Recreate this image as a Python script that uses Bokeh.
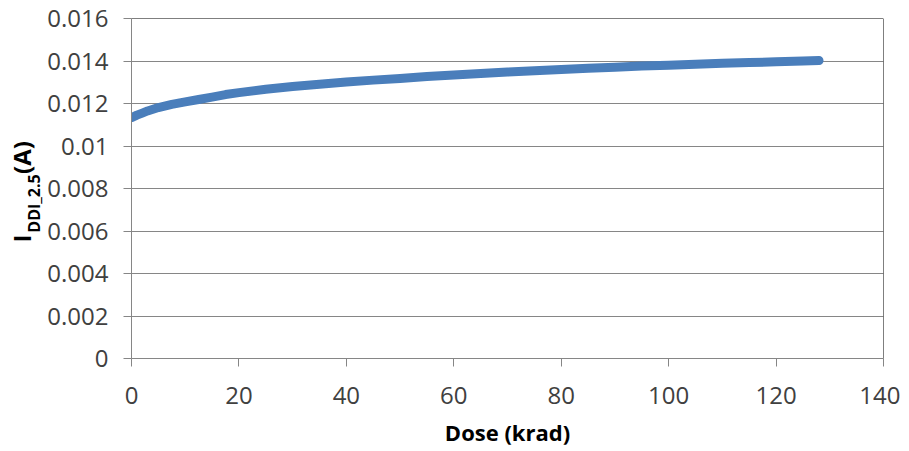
import math
from bokeh.plotting import figure
from bokeh.layouts import row
from bokeh.models import Span, FixedTicker, Range1d
from bokeh.core.properties import value
from bokeh.embed import file_html
from bokeh.resources import INLINE

# Data
dose_krad = [0, 1, 2, 3, 5, 7.5, 10, 12.5, 15, 17.5, 20, 25, 30, 35, 40, 45, 50,
             55, 60, 65, 70, 75, 80, 85, 90, 95, 100, 105, 110, 115, 120, 125, 128]
iddi_a = [0.01133, 0.01145, 0.01155, 0.01165, 0.01181, 0.01196, 0.01208, 0.01219,
          0.01230, 0.01242, 0.01251, 0.01267, 0.01280, 0.01291, 0.01301, 0.01310,
          0.01318, 0.01327, 0.01334, 0.01341, 0.01348, 0.01354, 0.01360, 0.01366,
          0.01371, 0.01376, 0.01380, 0.01385, 0.01389, 0.01393, 0.01396, 0.01400,
          0.01402]

x_ticks = [0, 20, 40, 60, 80, 100, 120, 140]
y_ticks = [0, 0.002, 0.004, 0.006, 0.008, 0.010, 0.012, 0.014, 0.016]
y_tick_labels = ["0", "0.002", "0.004", "0.006", "0.008", "0.01", "0.012", "0.014", "0.016"]

H = 450
SIDE_W = 44
TOP = 18
BOTTOM = 358  # frame bottom in page pixels

# ---- narrow side panel carrying the y-axis title (with subscript) ----
side = figure(width=SIDE_W, height=H, output_backend="svg", toolbar_location=None,
              x_range=Range1d(0, SIDE_W), y_range=Range1d(0, BOTTOM - TOP),
              x_axis_location=None, y_axis_location=None,
              min_border=0, min_border_left=0, min_border_right=0,
              min_border_top=TOP, min_border_bottom=H - BOTTOM)
side.grid.visible = False
side.outline_line_color = None
side.background_fill_color = "white"
side.border_fill_color = "white"

ang = math.pi / 2
tstyle = dict(angle=ang, text_font=value("Open Sans"), text_font_style="bold",
              text_color="black", text_align="center", text_baseline="middle")
# positions are page pixels: x from left, y converted from top to frame units
side.text(x=[21], y=[BOTTOM - 238], text=["I"], text_font_size="24px", **tstyle)
side.text(x=[33], y=[BOTTOM - 203], text=["DDI_2.5"], text_font_size="16px", **tstyle)
side.text(x=[21], y=[BOTTOM - 157], text=["(A)"], text_font_size="24px", **tstyle)

# ---- main chart ----
p = figure(width=900 - SIDE_W, height=H, output_backend="svg", toolbar_location=None,
           x_range=Range1d(0, 140), y_range=Range1d(0, 0.016),
           min_border_left=130 - SIDE_W, min_border_right=17, min_border_top=TOP,
           min_border_bottom=H - BOTTOM)
p.background_fill_color = "white"
p.border_fill_color = "white"
p.outline_line_color = None

grid_col = "#868686"
for ax in (p.xaxis, p.yaxis):
    ax.axis_line_color = grid_col
    ax.major_tick_line_color = grid_col
    ax.major_tick_out = 8
    ax.major_tick_in = 0
    ax.minor_tick_line_color = None
    ax.major_label_text_font = "Open Sans"
    ax.major_label_text_font_size = "24px"
    ax.major_label_text_color = "#404040"

p.xaxis.ticker = FixedTicker(ticks=x_ticks)
p.yaxis.ticker = FixedTicker(ticks=y_ticks)
p.yaxis.major_label_overrides = {t: l for t, l in zip(y_ticks, y_tick_labels)}
p.xaxis.major_label_standoff = 20
p.yaxis.major_label_standoff = 15

p.xaxis.axis_label = "Dose (krad)"
p.xaxis.axis_label_text_font = "Open Sans"
p.xaxis.axis_label_text_font_style = "bold"
p.xaxis.axis_label_text_font_size = "22px"
p.xaxis.axis_label_text_color = "black"
p.xaxis.axis_label_standoff = 10

p.xgrid.grid_line_color = None
p.ygrid.grid_line_color = grid_col
p.ygrid.grid_line_width = 1

# black top/right plot border
p.add_layout(Span(location=0.016, dimension="width", line_color="black", line_width=1))
p.add_layout(Span(location=140, dimension="height", line_color="black", line_width=1))

p.line(dose_krad, iddi_a, line_color="#4a7ebb", line_width=9, line_cap="round",
       line_join="round")

layout = row(side, p, spacing=0)
open("out.html", "w").write(file_html(layout, INLINE))
